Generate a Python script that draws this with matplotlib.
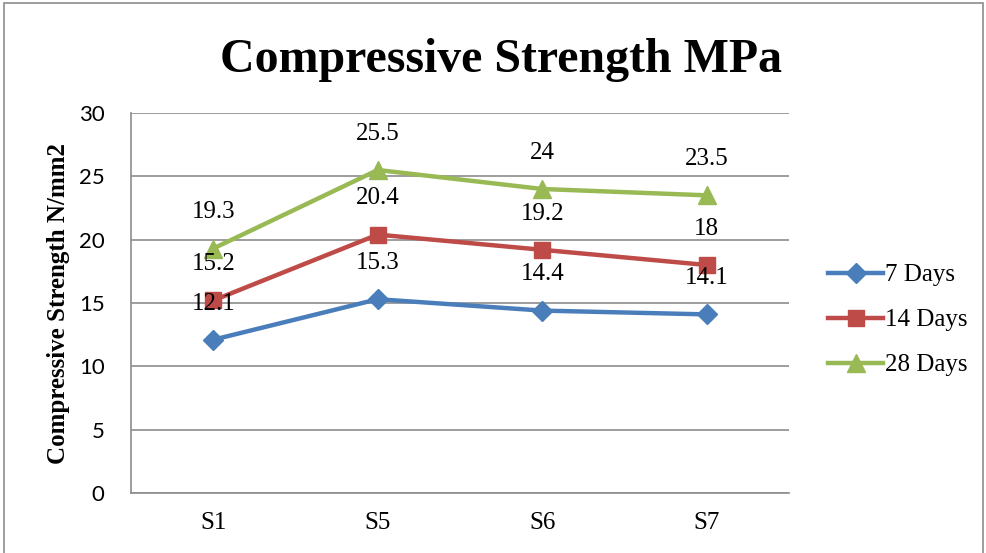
import matplotlib.pyplot as plt
from matplotlib.patches import Rectangle

# Compressive strength at each curing age
samples = ["S1", "S5", "S6", "S7"]
days_7 = [12.1, 15.3, 14.4, 14.1]
days_14 = [15.2, 20.4, 19.2, 18.0]
days_28 = [19.3, 25.5, 24.0, 23.5]
series_names = ["7 Days", "14 Days", "28 Days"]
y_ticks = [0, 5, 10, 15, 20, 25, 30]

colors = ["#4A7EBB", "#BE4B48", "#98B954"]
markers = ["D", "s", "^"]
marker_sizes = [10, 12, 13]

fig = plt.figure(figsize=(9.87, 5.53), dpi=100)
ax = fig.add_axes([131 / 987, 1 - 493 / 553, (789 - 131) / 987, (493 - 113) / 553])

# outer chart border
fig.add_artist(Rectangle((4 / 987, -0.01), 979 / 987, 1 - 3 / 553 + 0.01,
                         transform=fig.transFigure, fill=False,
                         edgecolor="#8c8c8c", linewidth=1.2))

x = list(range(len(samples)))
for vals, name, c, m, ms in zip([days_7, days_14, days_28], series_names,
                                colors, markers, marker_sizes):
    ax.plot(x, vals, color=c, linewidth=3.2, marker=m, markersize=ms,
            label=name, zorder=3)
    for xi, v in zip(x, vals):
        ax.annotate(f"{v:g}", (xi, v), xytext=(0, 26), textcoords="offset points",
                    ha="center", va="center", fontsize=18,
                    family="Liberation Serif", zorder=4)

ax.set_xlim(-0.5, len(samples) - 0.5)
ax.set_ylim(0, 30)
ax.set_yticks(y_ticks)
ax.set_xticks(x)
ax.set_xticklabels(samples, family="Liberation Serif", fontsize=18)
for lbl in ax.get_yticklabels():
    lbl.set_family("Lato")
    lbl.set_fontsize(16)
ax.tick_params(axis="both", length=0)
ax.tick_params(axis="x", pad=14)
ax.tick_params(axis="y", pad=19)
ax.grid(axis="y", color="#8c8c8c", linewidth=1.2)
ax.set_axisbelow(True)
for side in ["top", "right"]:
    ax.spines[side].set_visible(False)
for side in ["left", "bottom"]:
    ax.spines[side].set_color("#8c8c8c")
    ax.spines[side].set_linewidth(1.2)

ax.set_ylabel("Compressive Strength N/mm2", family="Liberation Serif",
              fontweight="bold", fontsize=18)
ax.yaxis.set_label_coords(-0.093, 0.5)

fig.text(0.508, 1 - 72 / 553, "Compressive Strength MPa", ha="center",
         va="baseline", family="Liberation Serif", fontweight="bold",
         fontsize=34.5)

leg = fig.legend(loc="center left", bbox_to_anchor=(806 / 987, 1 - 320 / 553),
                 frameon=False, prop={"family": "Liberation Serif", "size": 18},
                 handlelength=2.2, handletextpad=0.05, labelspacing=0.9)

fig.savefig("out.png", dpi=100)
